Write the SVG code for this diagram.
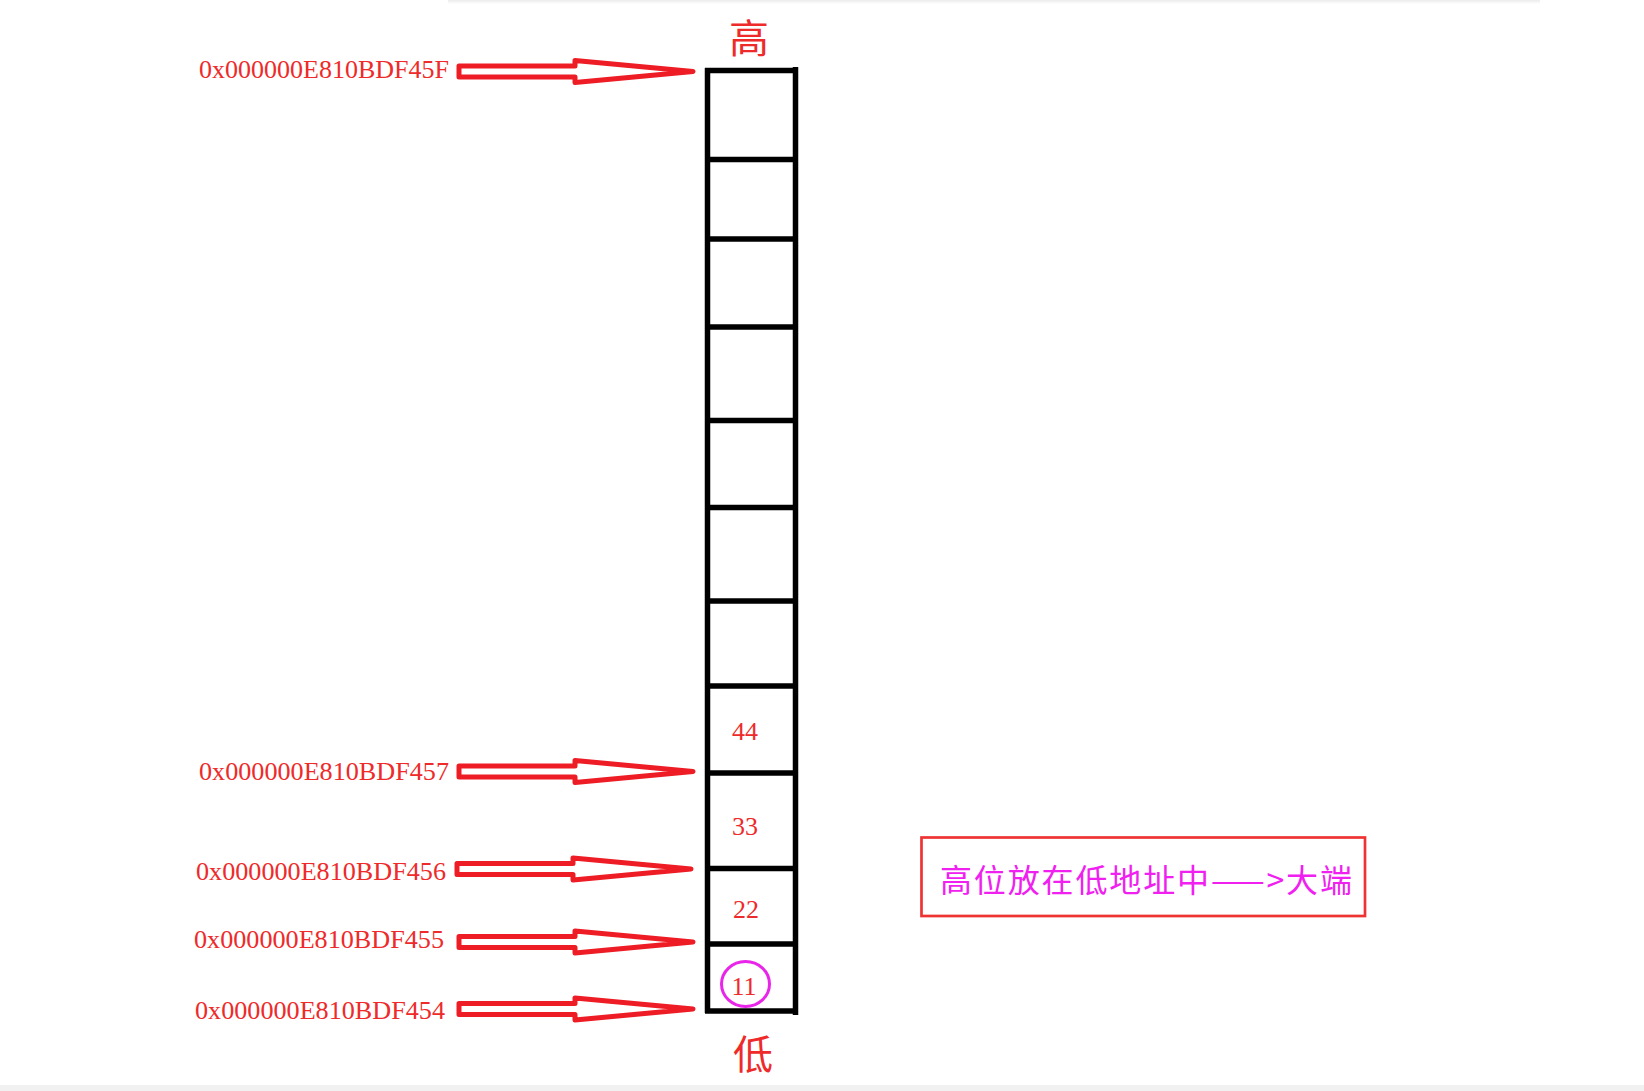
<svg xmlns="http://www.w3.org/2000/svg" xmlns:xlink="http://www.w3.org/1999/xlink" width="1644" height="1091" viewBox="0 0 1644 1091">
<style>
.addr{font-family:"Liberation Serif","Noto Serif",serif;font-size:26px;fill:#ee2a2a}
.num{font-family:"Liberation Serif",serif;font-size:26px;fill:#ee2a2a;text-anchor:middle}
.cjk{font-family:"Noto Sans CJK SC",sans-serif;font-size:40px;fill:#ee2a2a;text-anchor:middle}
.cell{fill:none;stroke:#000;stroke-width:5.5}
.arrow{fill:none;stroke:#ee1c24;stroke-width:5;stroke-linejoin:round}
.note{font-family:"Noto Sans CJK SC",sans-serif;font-size:32px;fill:#f020f0}
</style>
<defs>
<linearGradient id="shade" x1="0" y1="0" x2="0" y2="1">
<stop offset="0" stop-color="#ebebeb"/>
<stop offset="1" stop-color="#ffffff"/>
</linearGradient>
<path id="arr" d="M0,-5.5 H116 V-11 L234,0 L116,11 V5.5 H0 Z"/>
</defs>
<rect x="0" y="0" width="1644" height="1091" fill="#ffffff"/>
<rect x="448" y="0" width="1092" height="4" fill="url(#shade)"/>
<rect x="0" y="1085" width="1644" height="6" fill="#f1f1f1"/>

<g id="column">
<line class="cell" x1="707.5" y1="68" x2="707.5" y2="1013"/>
<line class="cell" x1="795.5" y1="67" x2="795.5" y2="1015"/>
<line class="cell" x1="705" y1="70.5" x2="798" y2="70.5"/>
<line class="cell" x1="705" y1="159.5" x2="798" y2="159.5"/>
<line class="cell" x1="705" y1="239" x2="798" y2="239"/>
<line class="cell" x1="705" y1="327" x2="798" y2="327"/>
<line class="cell" x1="705" y1="420.5" x2="798" y2="420.5"/>
<line class="cell" x1="705" y1="507.5" x2="798" y2="507.5"/>
<line class="cell" x1="705" y1="601" x2="798" y2="601"/>
<line class="cell" x1="705" y1="686" x2="798" y2="686"/>
<line class="cell" x1="705" y1="773" x2="798" y2="773"/>
<line class="cell" x1="705" y1="868.5" x2="798" y2="868.5"/>
<line class="cell" x1="705" y1="944" x2="798" y2="944"/>
<line class="cell" x1="705" y1="1011" x2="798" y2="1011"/>
</g>

<g id="cell-44"><text class="num" x="745" y="740">44</text></g>
<g id="cell-33"><text class="num" x="745" y="835">33</text></g>
<g id="cell-22"><text class="num" x="746" y="918">22</text></g>
<g id="cell-11">
<ellipse cx="745.5" cy="984" rx="24" ry="22.5" fill="none" stroke="#e825e8" stroke-width="3"/>
<text class="num" x="744" y="995">11</text>
</g>

<g id="label-high"><text class="cjk" x="749" y="53">高</text></g>
<g id="label-low"><text class="cjk" x="753" y="1069">低</text></g>

<g id="addr-45F"><text class="addr" x="199" y="78" textLength="250" lengthAdjust="spacingAndGlyphs">0x000000E810BDF45F</text></g>
<g id="addr-457"><text class="addr" x="199" y="780" textLength="250" lengthAdjust="spacingAndGlyphs">0x000000E810BDF457</text></g>
<g id="addr-456"><text class="addr" x="196" y="880" textLength="250" lengthAdjust="spacingAndGlyphs">0x000000E810BDF456</text></g>
<g id="addr-455"><text class="addr" x="194" y="948" textLength="250" lengthAdjust="spacingAndGlyphs">0x000000E810BDF455</text></g>
<g id="addr-454"><text class="addr" x="195" y="1019" textLength="250" lengthAdjust="spacingAndGlyphs">0x000000E810BDF454</text></g>

<g id="connectors">
<use xlink:href="#arr" class="arrow" x="459" y="71.5"/>
<use xlink:href="#arr" class="arrow" x="459" y="771.5"/>
<use xlink:href="#arr" class="arrow" x="457" y="869"/>
<use xlink:href="#arr" class="arrow" x="459" y="942"/>
<use xlink:href="#arr" class="arrow" x="459" y="1009"/>
</g>

<g id="note">
<rect x="921.5" y="837.5" width="443.5" height="78.5" fill="none" stroke="#ee3333" stroke-width="2.7"/>
<text class="note" x="940" y="892" textLength="412" lengthAdjust="spacing">高位放在低地址中——&gt;大端</text>
</g>
</svg>
